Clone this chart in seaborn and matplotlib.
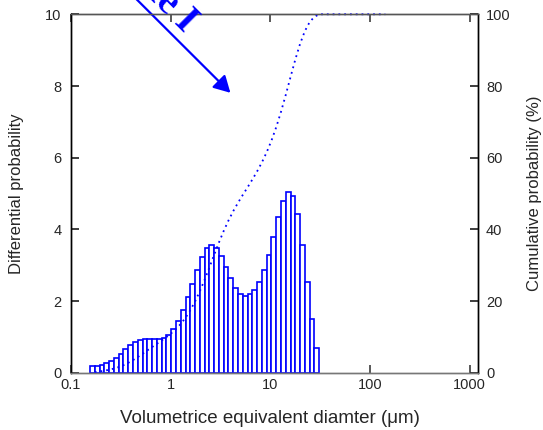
import numpy as np
import matplotlib
matplotlib.use("Agg")
import matplotlib.pyplot as plt
from matplotlib.ticker import FixedLocator, FixedFormatter, NullLocator
import seaborn as sns

# ---------------- data ----------------
bin_lo = 0.155          # lower edge of first size class (um)
bin_hi = 30.9           # upper edge of last size class (um)
diff_prob = [0.18, 0.20, 0.21, 0.26, 0.34, 0.42, 0.53, 0.66, 0.77, 0.86,
             0.92, 0.95, 0.95, 0.93, 0.93, 0.96, 1.05, 1.21, 1.45, 1.74,
             2.11, 2.49, 2.88, 3.22, 3.48, 3.56, 3.48, 3.26, 2.95, 2.64,
             2.37, 2.21, 2.14, 2.19, 2.31, 2.53, 2.86, 3.28, 3.80, 4.34,
             4.79, 5.04, 4.93, 4.43, 3.57, 2.52, 1.49, 0.68]
cum_tail_x = [142.0]    # cumulative curve continues flat at 100 %
cum_tail_y = [100.0]
x_ticks = [0.1, 1, 10, 100, 1000]
x_tick_labels = ["0.1", "1", "10", "100", "1000"]
left_ticks = [0, 2, 4, 6, 8, 10]
right_ticks = [0, 20, 40, 60, 80, 100]
annot_text = "Sample I"

n_bins = len(diff_prob)
edges = np.geomspace(bin_lo, bin_hi, n_bins + 1)
centers = np.sqrt(edges[:-1] * edges[1:])
cum = np.cumsum(diff_prob)
cum = cum / cum[-1] * 100.0
cum_x = list(edges[1:]) + cum_tail_x
cum_y = list(cum) + cum_tail_y

# ---------------- style ----------------
sns.set_theme(style="ticks")
plt.rcParams["font.family"] = ["Liberation Sans", "DejaVu Sans"]
plt.rcParams["axes.linewidth"] = 1.0

fig = plt.figure(figsize=(5.43, 4.30), dpi=100)
ax = fig.add_axes([71 / 543, 1 - 372.8 / 430, (477.7 - 71) / 543, (372.8 - 14.3) / 430])

sns.histplot(x=centers, weights=diff_prob, bins=n_bins,
             binrange=(np.log10(bin_lo), np.log10(bin_hi)), log_scale=True,
             stat="count", element="bars", fill=True, color="white",
             edgecolor="#0000FF", linewidth=1.2, alpha=1.0, ax=ax)

ax.set_xlim(0.1, 1200)
ax.set_ylim(0, 10)
ax.xaxis.set_major_locator(FixedLocator(x_ticks))
ax.xaxis.set_major_formatter(FixedFormatter(x_tick_labels))
ax.xaxis.set_minor_locator(NullLocator())
ax.yaxis.set_major_locator(FixedLocator(left_ticks))
ax.tick_params(axis="x", which="both", direction="in", length=5.5, top=True,
               bottom=True, labelsize=10.5, pad=4, color="#444444")
ax.tick_params(axis="y", direction="in", length=5.5, left=True, right=False,
               labelsize=10.5, pad=7)
ax.set_xlabel("Volumetrice equivalent diamter (\u03bcm)", fontsize=13.5)
ax.set_ylabel("Differential probability", fontsize=12)
ax.xaxis.set_label_coords(0.49, -0.105)
ax.yaxis.set_label_coords(-0.115, 0.5)

ax2 = ax.twinx()
sns.lineplot(x=cum_x, y=cum_y, ax=ax2, color="#0000FF", linewidth=1.3,
             linestyle=(0, (1, 2.2)), clip_on=False)
ax2.set_ylim(0, 100)
ax2.yaxis.set_major_locator(FixedLocator(right_ticks))
ax2.tick_params(axis="y", direction="in", length=5.5, labelsize=10.5, pad=6)
ax2.set_ylabel("Cumulative probability (%)", fontsize=12)
ax2.yaxis.set_label_coords(1.122, 0.5)

for a in (ax, ax2):
    a.spines["top"].set_color("#555555")
    a.spines["bottom"].set_color("#777777")
    a.spines["left"].set_color("black")
    a.spines["right"].set_color("black")

# arrow + partially visible label
ax.annotate("", xy=(3.97, 7.81), xytext=(0.29, 10.96), xycoords="data",
            textcoords="data", annotation_clip=False,
            arrowprops=dict(arrowstyle="-|>,head_length=0.45,head_width=0.25",
                            color="#0000FF", lw=1.6, mutation_scale=22,
                            shrinkA=0, shrinkB=0))
fig.text(184.3 / 543, 1 - 32.7 / 430, annot_text, color="#0000FF",
         fontsize=28, fontweight="bold", family="Liberation Serif",
         rotation=-45, rotation_mode="anchor", ha="right", va="baseline")

fig.savefig("out.png", dpi=100)
